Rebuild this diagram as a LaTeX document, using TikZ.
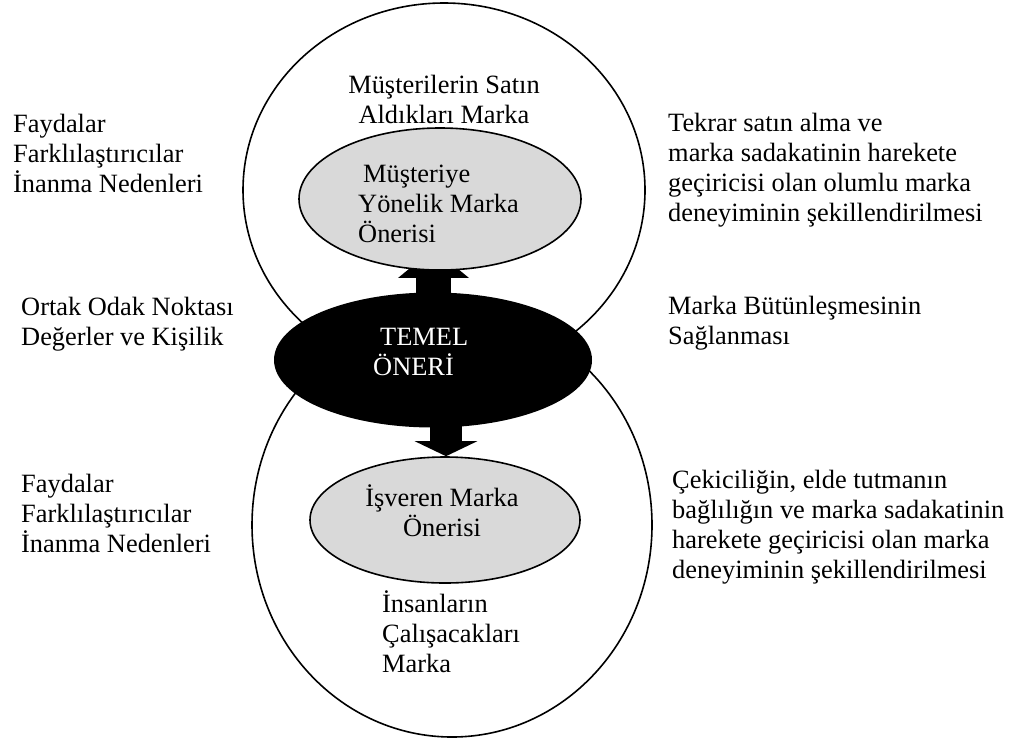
\documentclass[tikz,border=0pt]{standalone}
\usepackage{fontspec}
\setmainfont{Liberation Serif}
\usetikzlibrary{shapes.geometric,arrows.meta}
\pgfdeclarelayer{under}
\pgfsetlayers{under,main}
\begin{document}
\begin{tikzpicture}[x=1pt,y=-1pt,
  % multi-line labels are placed by the baseline of their last line
  txt/.style={inner sep=0pt, align=left, anchor=base west,
    font=\fontsize{26.4}{30}\selectfont},
  ctxt/.style={txt, align=center, anchor=base},
  ring/.style={ellipse, draw=black, line width=1.6pt, inner sep=0pt},
  offer/.style={ellipse, draw=black, line width=1.6pt, fill=gray!30, inner sep=0pt},
  corebox/.style={ellipse, fill=black, draw=none, inner sep=0pt},
  fatarrow/.style={draw=black, line cap=butt}]
\useasboundingbox (0,0) rectangle (1024,745);

% outer brand circles
\node[ring, minimum width=402pt, minimum height=374pt] (customer) at (444,190) {};
\node[ring, minimum width=400pt, minimum height=424pt] (employer) at (452,525) {};

% offer ellipses and the core proposition
\node[offer, minimum width=282pt, minimum height=142pt] (custoffer) at (440,199) {};
\node[offer, minimum width=270pt, minimum height=126pt] (empoffer) at (445,520) {};
\node[corebox, minimum width=318pt, minimum height=135pt] (core) at (433,360) {};

% arrows from the core proposition to both offers, kept under the ellipses
\begin{pgfonlayer}{under}
\draw[fatarrow, line width=35pt, -{Triangle[length=29pt 0 0, width=69pt 0 0]}]
  ([xshift=0.5pt]core.center) -- ([xshift=-6.5pt, yshift=22pt]custoffer.south);
\draw[fatarrow, line width=32pt, -{Triangle[length=15pt 0 0, width=62pt 0 0]}]
  ([xshift=13pt]core.center) -- ([xshift=1pt]empoffer.north);
\end{pgfonlayer}

% labels inside the circles
\node[ctxt] (buy) at (444,123) {Müşterilerin Satın\\Aldıkları Marka};
\node[txt] (custtext) at (358,242) {\hspace*{5pt}Müşteriye\\Yönelik Marka\\Önerisi};
\node[txt, text=white] (coretext) at (373,375) {\hspace*{7pt}TEMEL\\ÖNERİ};
\node[ctxt] (emptext) at (442,536) {İşveren Marka\\Önerisi};
\node[txt] (work) at (382,672) {İnsanların\\Çalışacakları\\Marka};

% side notes
\node[txt] (lefttop) at (13,192) {Faydalar\\Farklılaştırıcılar\\İnanma Nedenleri};
\node[txt] (leftmid) at (21,345) {Ortak Odak Noktası\\Değerler ve Kişilik};
\node[txt] (leftbot) at (21,552) {Faydalar\\Farklılaştırıcılar\\İnanma Nedenleri};
\node[txt] (righttop) at (668,221) {Tekrar satın alma ve\\marka sadakatinin harekete\\geçiricisi olan olumlu marka\\deneyiminin şekillendirilmesi};
\node[txt] (rightmid) at (668,344) {Marka Bütünleşmesinin\\Sağlanması};
\node[txt] (rightbot) at (672,578) {Çekiciliğin, elde tutmanın\\bağlılığın ve marka sadakatinin\\harekete geçiricisi olan marka\\deneyiminin şekillendirilmesi};
\end{tikzpicture}
\end{document}
